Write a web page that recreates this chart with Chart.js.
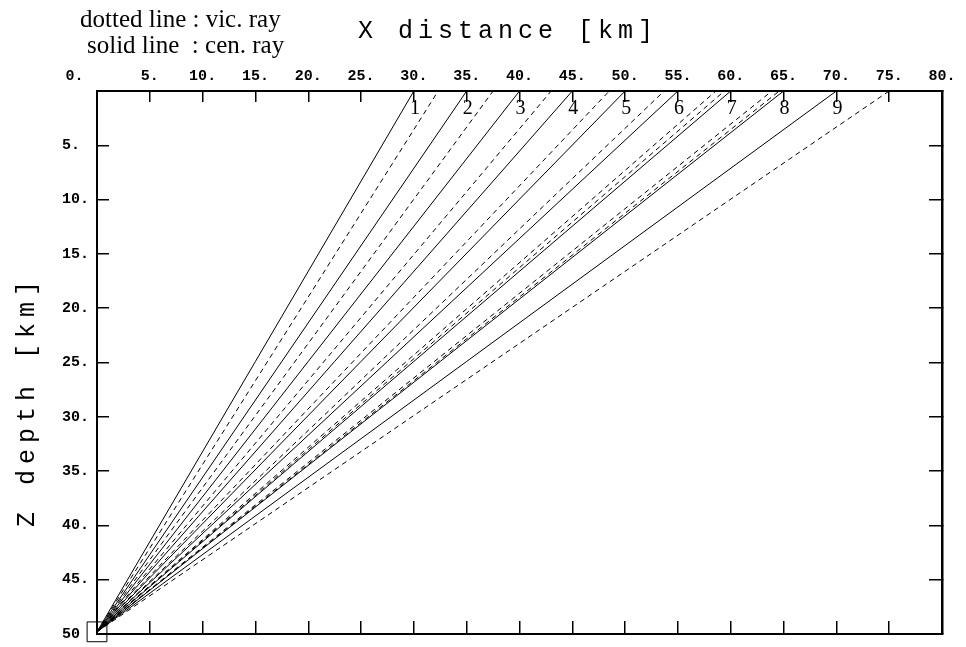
<!DOCTYPE html>
<html>
<head>
<meta charset="utf-8">
<script src="https://cdn.jsdelivr.net/npm/chart.js@4.4.1/dist/chart.umd.min.js"></script>
<style>
  html, body { margin: 0; padding: 0; background: #fff; }
</style>
</head>
<body>
<canvas id="rays" width="966" height="647"></canvas>
<script>
// source point (x km, z km)
const sourceX = 0;
const sourceZ = 49.8;

// central rays: x (km) where each ray reaches the surface z = 0
const cenRayEndX = [30, 35, 40, 45, 50, 55, 60, 65, 70];
const rayNumbers = ['1', '2', '3', '4', '5', '6', '7', '8', '9'];

// vicinity rays: x (km) at the surface
const vicRayEndX = [32.3, 37.5, 43.0, 48.5, 53.7, 58.6, 59.4, 63.9, 64.6, 75.0];

// axis ticks
const xTicks = [0, 5, 10, 15, 20, 25, 30, 35, 40, 45, 50, 55, 60, 65, 70, 75, 80];
const zTicks = [0, 5, 10, 15, 20, 25, 30, 35, 40, 45, 50];

const tickFont = { family: '"Liberation Mono", monospace', size: 15, weight: 'bold' };

function rayLine(endX, dashed) {
  return {
    data: [{ x: sourceX, y: sourceZ }, { x: endX, y: 0 }],
    showLine: true,
    borderColor: '#000',
    borderWidth: 1,
    borderDash: dashed ? [5, 4] : [],
    pointRadius: 0,
    fill: false
  };
}

const datasets = [];
vicRayEndX.forEach(x => datasets.push(rayLine(x, true)));
cenRayEndX.forEach(x => datasets.push(rayLine(x, false)));
// source marker
datasets.push({
  data: [{ x: sourceX, y: sourceZ }],
  pointStyle: 'rect',
  pointRadius: 14,
  pointBorderColor: '#000',
  pointBackgroundColor: 'rgba(0,0,0,0)',
  pointBorderWidth: 1,
  showLine: false,
  clip: false
});

const setTicks = list => scale => { scale.ticks = list.map(v => ({ value: v })); };

// fixed axis size, no extra room for overhanging labels
const fixSize = (w, h) => scale => {
  if (w !== null) scale.width = w;
  if (h !== null) scale.height = h;
  scale.paddingLeft = scale.paddingRight = scale.paddingTop = scale.paddingBottom = 0;
};

// ray numbers beside each central ray near the surface
const rayLabels = {
  id: 'rayLabels',
  afterDatasetsDraw(chart) {
    const { ctx, scales } = chart;
    ctx.save();
    ctx.fillStyle = '#000';
    ctx.font = '20px "Liberation Serif", serif';
    ctx.textAlign = 'center';
    ctx.textBaseline = 'middle';
    cenRayEndX.forEach((x, i) => {
      ctx.fillText(rayNumbers[i], scales.x.getPixelForValue(x) + 1, scales.y.getPixelForValue(1.6));
    });
    ctx.restore();
  }
};

// legend text and axis titles
const titles = {
  id: 'titles',
  afterDraw(chart) {
    const ctx = chart.ctx;
    ctx.save();
    ctx.fillStyle = '#000';
    ctx.textBaseline = 'alphabetic';
    ctx.textAlign = 'left';
    ctx.font = '25px "Liberation Serif", serif';
    ctx.fillText('dotted line : vic. ray', 80, 27);
    ctx.fillText('solid line  : cen. ray', 87, 53);

    ctx.font = '25px "Liberation Mono", monospace';
    ctx.letterSpacing = '5px';
    ctx.fillText('X distance [km]', 358, 38);

    ctx.letterSpacing = '6px';
    ctx.translate(34, 527);
    ctx.rotate(-Math.PI / 2);
    ctx.fillText('Z depth [km]', 0, 0);
    ctx.restore();
  }
};

new Chart(document.getElementById('rays'), {
  type: 'scatter',
  data: { datasets },
  plugins: [rayLabels, titles],
  options: {
    responsive: false,
    animation: false,
    devicePixelRatio: 1,
    layout: { autoPadding: false, padding: { left: 0, top: 0, right: 24, bottom: 13 } },
    plugins: { legend: { display: false }, tooltip: { enabled: false } },
    scales: {
      x: {
        type: 'linear',
        position: 'top',
        min: 0,
        max: 80,
        afterBuildTicks: setTicks(xTicks),
        afterFit: fixSize(null, 91),
        ticks: {
          color: '#000',
          font: tickFont,
          padding: 17,
          maxRotation: 0,
          autoSkip: false,
          callback: v => (v === 0 ? '0.     ' : v + '.')
        },
        grid: { drawOnChartArea: false, tickLength: -11, color: '#000', lineWidth: 1.5 },
        border: { color: '#000', width: 2 }
      },
      x2: {
        type: 'linear',
        position: 'bottom',
        min: 0,
        max: 80,
        afterBuildTicks: setTicks(xTicks),
        afterFit: fixSize(null, 0),
        ticks: { display: false },
        grid: { drawOnChartArea: false, tickLength: -13, color: '#000', lineWidth: 1.5 },
        border: { color: '#000', width: 2 }
      },
      y: {
        type: 'linear',
        position: 'left',
        reverse: true,
        min: 0,
        max: 50,
        afterBuildTicks: setTicks(zTicks),
        afterFit: fixSize(97, null),
        ticks: {
          color: '#000',
          font: tickFont,
          padding: 20,
          crossAlign: 'near',
          autoSkip: false,
          callback: v => (v === 0 ? '' : v === 50 ? '50 ' : v < 10 ? v + '. ' : v + '.')
        },
        grid: { drawOnChartArea: false, tickLength: -12, color: '#000', lineWidth: 1.5 },
        border: { color: '#000', width: 2 }
      },
      y2: {
        type: 'linear',
        position: 'right',
        reverse: true,
        min: 0,
        max: 50,
        afterBuildTicks: setTicks(zTicks),
        afterFit: fixSize(0, null),
        ticks: { display: false },
        grid: { drawOnChartArea: false, tickLength: -13, color: '#000', lineWidth: 1.5 },
        border: { color: '#000', width: 2.5 }
      }
    }
  }
});
</script>
</body>
</html>
